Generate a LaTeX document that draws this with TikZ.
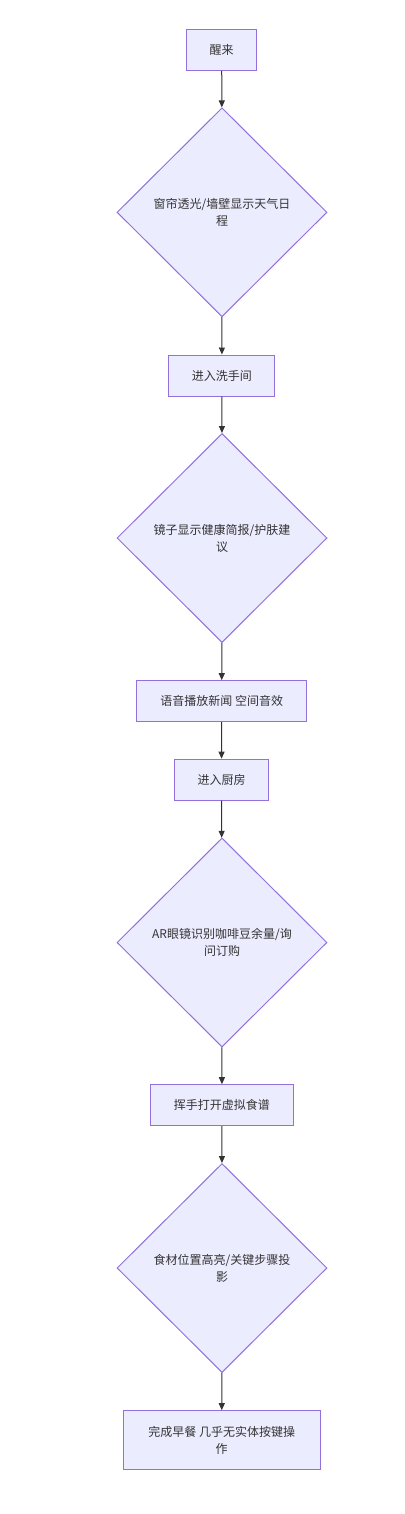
\documentclass[tikz,border=0pt]{standalone}
\usepackage{fontspec}
\newfontfamily\cjk{Noto Sans CJK SC}
\usetikzlibrary{shapes.geometric,arrows.meta}
\definecolor{boxfill}{HTML}{ECECFF}
\definecolor{boxline}{HTML}{9370DB}
\definecolor{edgeline}{HTML}{333333}

\begin{document}
\begin{tikzpicture}[x=1pt,y=-1pt]
    \useasboundingbox (0,0) rectangle (404,1514);
    \begin{scope}[every node/.style={rectangle, draw=boxline, fill=boxfill, line width=1pt, text=edgeline, inner sep=0pt, align=center, minimum height=41pt, font=\cjk\fontsize{12}{17}\selectfont}]
        \node[minimum width=70pt] (1) at (221.7,50) {醒来};
        \node[minimum width=106pt] (3) at (221.9,375.5) {进入洗手间};
        \node[minimum width=170pt] (5) at (221.7,701.2) {语音播放新闻 空间音效};
        \node[minimum width=93.6pt] (6) at (221.5,779.7) {进入厨房};
        \node[minimum width=142.3pt] (8) at (221.9,1105.2) {挥手打开虚拟食谱};
        \node[minimum width=196.7pt, minimum height=58.6pt] (10) at (221.7,1440) {完成早餐 几乎无实体按键操\\作};
    \end{scope}

    \begin{scope}[every node/.style={diamond, draw=boxline, fill=boxfill, line width=1pt, text=edgeline, inner sep=0pt, align=center, minimum width=210pt, minimum height=209pt, font=\cjk\fontsize{12}{17}\selectfont}]
        \node (2) at (222,212.3) {窗帘透光/墙壁显示天气日\\程};
        \node (4) at (222,538) {镜子显示健康简报/护肤建\\议};
        \node (7) at (222,942.5) {AR眼镜识别咖啡豆余量/询\\问订购};
        \node (9) at (222,1268) {食材位置高亮/关键步骤投\\影};
    \end{scope}

    \begin{scope}[every edge/.style={draw, edgeline, line width=1pt, -{Triangle[length=7pt,width=6pt]}}]
        \path (1) edge (2);
        \path (2) edge (3);
        \path (3) edge (4);
        \path (4) edge (5);
        \path (5) edge (6);
        \path (6) edge (7);
        \path (7) edge (8);
        \path (8) edge (9);
        \path (9) edge (10);
    \end{scope}
\end{tikzpicture}
\end{document}
